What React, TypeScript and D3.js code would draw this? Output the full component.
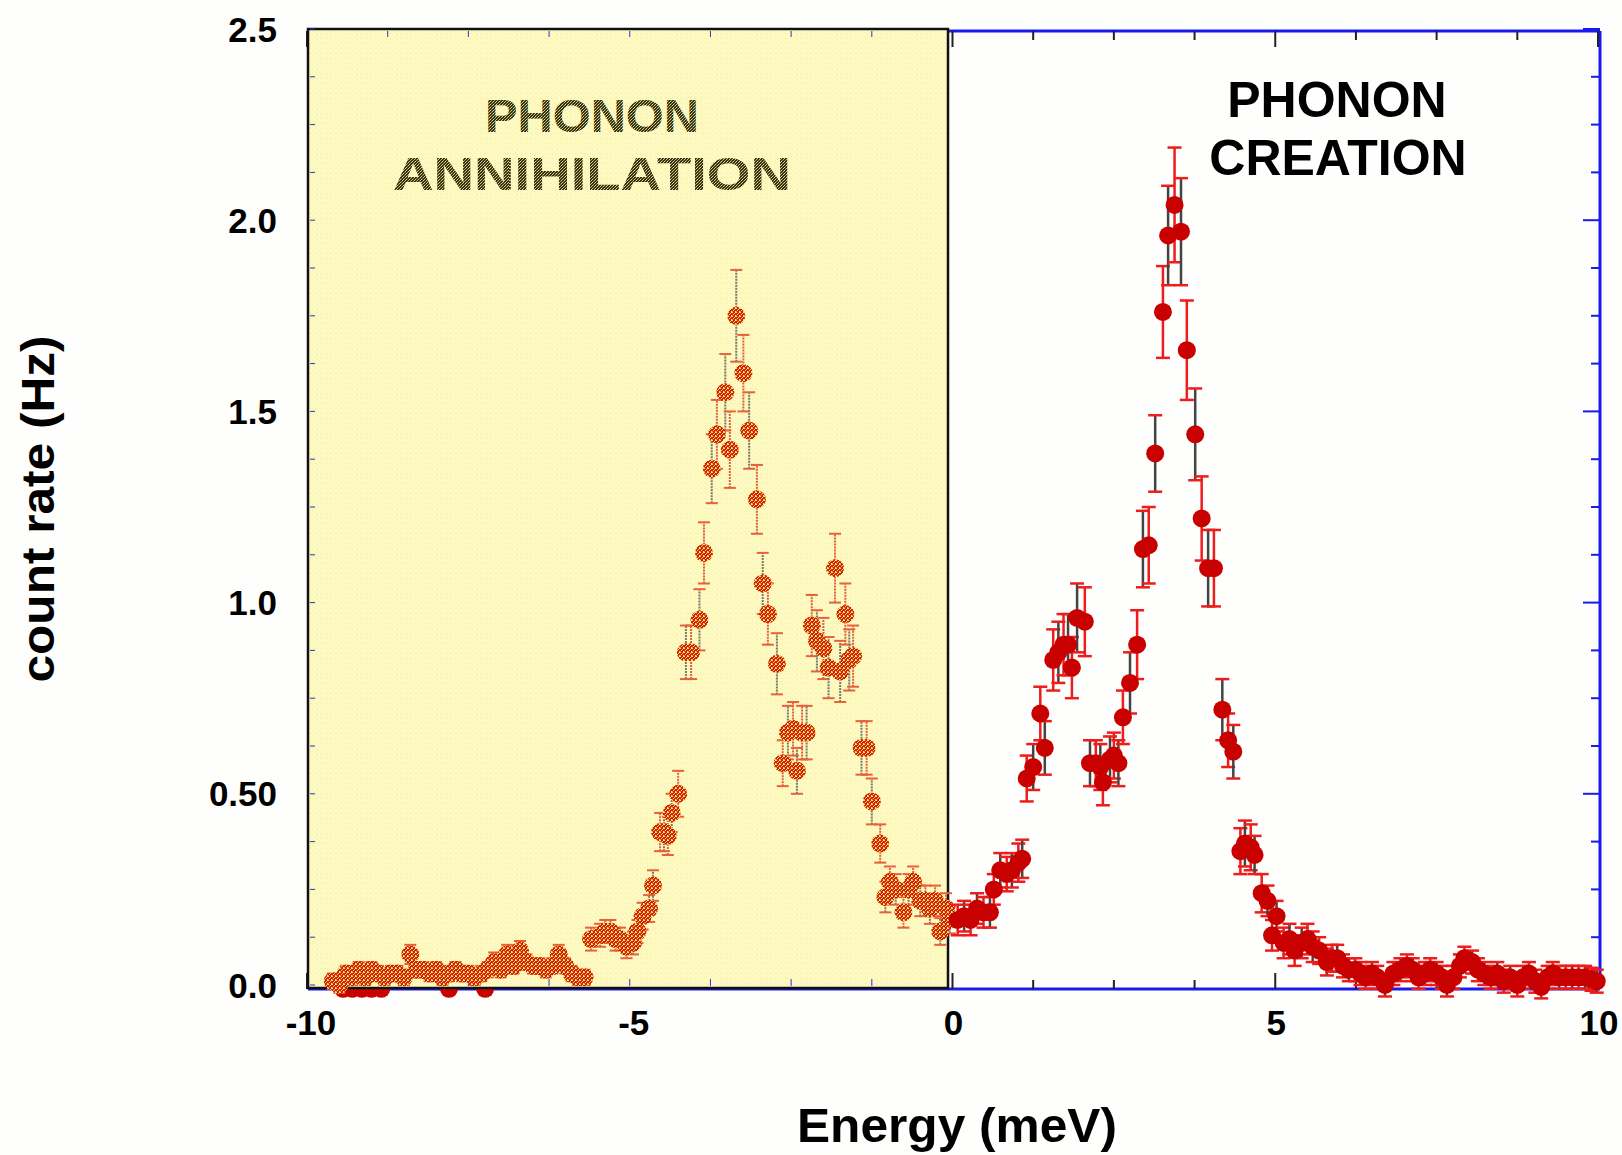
import React from "react";
import * as d3 from "d3";

// ---------- data ----------
const xTickLabels = ["-10", "-5", "0", "5", "10"];
const xTickValues = [-10, -5, 0, 5, 10];
const yTickLabels = ["0.0", "0.50", "1.0", "1.5", "2.0", "2.5"];
const yTickValues = [0, 0.5, 1.0, 1.5, 2.0, 2.5];

// phonon creation (E > 0)
const creationE = [0.08, 0.18, 0.28, 0.38, 0.48, 0.58, 0.64, 0.74, 0.84, 0.92, 1.02, 1.08, 1.15, 1.25, 1.36, 1.43, 1.56, 1.64, 1.72, 1.79, 1.85, 1.93, 2.05, 2.13, 2.22, 2.29, 2.33, 2.44, 2.5, 2.57, 2.64, 2.75, 2.86, 2.95, 3.04, 3.14, 3.26, 3.34, 3.44, 3.54, 3.63, 3.76, 3.86, 3.96, 4.05, 4.18, 4.27, 4.35, 4.46, 4.53, 4.62, 4.68, 4.79, 4.88, 4.95, 5.02, 5.13, 5.22, 5.3, 5.41, 5.5, 5.58, 5.68, 5.8, 5.88, 5.96, 6.05, 6.14, 6.24, 6.32, 6.4, 6.5, 6.58, 6.7, 6.83, 6.94, 7.04, 7.13, 7.22, 7.32, 7.4, 7.5, 7.58, 7.66, 7.76, 7.86, 7.93, 8.05, 8.14, 8.24, 8.34, 8.44, 8.54, 8.64, 8.75, 8.84, 8.93, 9.03, 9.12, 9.22, 9.3, 9.4, 9.5, 9.6, 9.7, 9.8, 9.9, 9.98];
const creationRate = [0.17, 0.18, 0.17, 0.2, 0.19, 0.19, 0.25, 0.3, 0.29, 0.3, 0.32, 0.33, 0.54, 0.57, 0.71, 0.62, 0.85, 0.87, 0.89, 0.89, 0.83, 0.96, 0.95, 0.58, 0.58, 0.57, 0.53, 0.59, 0.6, 0.58, 0.7, 0.79, 0.89, 1.14, 1.15, 1.39, 1.76, 1.96, 2.04, 1.97, 1.66, 1.44, 1.22, 1.09, 1.09, 0.72, 0.64, 0.61, 0.35, 0.37, 0.36, 0.34, 0.24, 0.22, 0.13, 0.18, 0.11, 0.12, 0.09, 0.11, 0.12, 0.1, 0.09, 0.06, 0.07, 0.07, 0.05, 0.04, 0.04, 0.03, 0.02, 0.03, 0.02, 0.0, 0.03, 0.04, 0.05, 0.04, 0.02, 0.03, 0.04, 0.03, 0.02, 0.0, 0.02, 0.05, 0.07, 0.06, 0.04, 0.03, 0.02, 0.03, 0.01, 0.02, 0.0, 0.02, 0.03, 0.01, -0.005, 0.02, 0.03, 0.02, 0.02, 0.02, 0.02, 0.02, 0.015, 0.01];
const creationErr = [0.04, 0.04, 0.04, 0.04, 0.04, 0.04, 0.04, 0.045, 0.045, 0.045, 0.05, 0.05, 0.06, 0.06, 0.07, 0.07, 0.08, 0.08, 0.08, 0.08, 0.08, 0.09, 0.09, 0.06, 0.06, 0.06, 0.06, 0.06, 0.06, 0.06, 0.07, 0.08, 0.09, 0.1, 0.1, 0.1, 0.12, 0.13, 0.15, 0.14, 0.13, 0.12, 0.11, 0.1, 0.1, 0.08, 0.07, 0.07, 0.06, 0.06, 0.06, 0.05, 0.05, 0.04, 0.04, 0.04, 0.04, 0.04, 0.04, 0.04, 0.04, 0.04, 0.035, 0.035, 0.035, 0.035, 0.03, 0.03, 0.03, 0.03, 0.03, 0.03, 0.03, 0.03, 0.03, 0.03, 0.03, 0.03, 0.03, 0.03, 0.03, 0.03, 0.03, 0.03, 0.03, 0.03, 0.03, 0.03, 0.03, 0.03, 0.03, 0.03, 0.03, 0.03, 0.03, 0.03, 0.03, 0.03, 0.03, 0.03, 0.03, 0.03, 0.03, 0.03, 0.03, 0.03, 0.03, 0.03];

// phonon annihilation (E < 0), pasted inset
const annihilationE = [-9.6, -9.5, -9.4, -9.3, -9.2, -9.1, -9.0, -8.9, -8.8, -8.7, -8.6, -8.5, -8.4, -8.3, -8.2, -8.1, -8.0, -7.9, -7.8, -7.7, -7.6, -7.5, -7.4, -7.3, -7.2, -7.1, -7.0, -6.9, -6.8, -6.7, -6.6, -6.5, -6.4, -6.3, -6.2, -6.1, -6.0, -5.9, -5.8, -5.7, -5.6, -5.46, -5.38, -5.3, -5.22, -5.15, -5.05, -4.95, -4.88, -4.8, -4.7, -4.64, -4.53, -4.47, -4.41, -4.35, -4.25, -4.13, -4.05, -3.92, -3.85, -3.73, -3.65, -3.52, -3.45, -3.35, -3.24, -3.15, -3.03, -2.94, -2.86, -2.72, -2.63, -2.55, -2.47, -2.41, -2.33, -2.26, -2.18, -2.1, -2.0, -1.92, -1.82, -1.74, -1.66, -1.6, -1.54, -1.41, -1.33, -1.25, -1.12, -1.04, -0.97, -0.88, -0.76, -0.68, -0.61, -0.5, -0.42, -0.35, -0.27, -0.19, -0.1, -0.04];
const annihilationRate = [0.01, 0.0, 0.03, 0.02, 0.04, 0.02, 0.04, 0.03, 0.02, 0.03, 0.03, 0.02, 0.08, 0.04, 0.04, 0.03, 0.04, 0.02, 0.03, 0.04, 0.03, 0.03, 0.02, 0.03, 0.04, 0.06, 0.04, 0.08, 0.05, 0.09, 0.06, 0.05, 0.05, 0.04, 0.05, 0.08, 0.05, 0.03, 0.02, 0.02, 0.12, 0.13, 0.14, 0.14, 0.12, 0.12, 0.1, 0.11, 0.14, 0.18, 0.2, 0.26, 0.4, 0.4, 0.39, 0.45, 0.5, 0.87, 0.87, 0.955, 1.13, 1.35, 1.44, 1.55, 1.4, 1.75, 1.6, 1.45, 1.27, 1.05, 0.97, 0.84, 0.58, 0.66, 0.67, 0.56, 0.66, 0.66, 0.94, 0.9, 0.88, 0.83, 1.09, 0.82, 0.97, 0.85, 0.86, 0.62, 0.62, 0.48, 0.37, 0.23, 0.27, 0.25, 0.19, 0.25, 0.27, 0.22, 0.22, 0.2, 0.22, 0.14, 0.2, 0.17];
const annihilationErr = [0.02, 0.02, 0.02, 0.02, 0.02, 0.02, 0.02, 0.02, 0.02, 0.02, 0.02, 0.02, 0.025, 0.02, 0.02, 0.02, 0.02, 0.02, 0.02, 0.02, 0.02, 0.02, 0.02, 0.02, 0.02, 0.025, 0.02, 0.025, 0.02, 0.025, 0.02, 0.02, 0.02, 0.02, 0.02, 0.025, 0.02, 0.02, 0.02, 0.02, 0.03, 0.03, 0.03, 0.03, 0.03, 0.03, 0.03, 0.03, 0.03, 0.035, 0.035, 0.04, 0.05, 0.05, 0.05, 0.05, 0.06, 0.07, 0.07, 0.08, 0.08, 0.09, 0.09, 0.1, 0.1, 0.12, 0.1, 0.1, 0.09, 0.08, 0.08, 0.08, 0.06, 0.07, 0.07, 0.06, 0.07, 0.07, 0.08, 0.08, 0.08, 0.08, 0.09, 0.08, 0.08, 0.08, 0.08, 0.07, 0.07, 0.06, 0.05, 0.04, 0.04, 0.04, 0.04, 0.04, 0.04, 0.04, 0.04, 0.04, 0.04, 0.035, 0.04, 0.035];

// main-plot points hidden under the inset (only their lower edge peeks out)
const hiddenE = [-9.44, -9.3, -9.15, -9.0, -8.85, -7.8, -7.24];
const hiddenRate = [-0.01, -0.01, -0.01, -0.01, -0.01, -0.01, -0.01];

// ---------- layout ----------
const W = 1622;
const H = 1155;
const x = d3.scaleLinear().domain([-10, 10]).range([307, 1598]);
const y = d3.scaleLinear().domain([0, 2.5]).range([985, 29]);
const frameTop = 31;
const frameRight = 1600;
const frameBottom = 989;
const insetLeft = 308;
const insetRight = 948;
const insetTop = 29;
const insetBottom = 988;

const SANS = "'Liberation Sans', Arial, Helvetica, sans-serif";

export default function App() {
  const minorX = d3.range(-10, 10.001, 1.25);
  const minorY = d3.range(0, 2.5001, 0.125);
  const isMajorX = (v: number) => Math.abs(v / 5 - Math.round(v / 5)) < 1e-6;
  const isMajorY = (v: number) => Math.abs(v / 0.5 - Math.round(v / 0.5)) < 1e-6;

  return (
    <svg
      width={W}
      height={H}
      style={{ position: "absolute", left: 0, top: 0, background: "#fefefc" }}
      xmlns="http://www.w3.org/2000/svg"
    >
      <defs>
        <pattern id="speckRed" width="4" height="4" patternUnits="userSpaceOnUse">
          <rect width="4" height="4" fill="#d41c0a" />
          <rect x="0" y="0" width="1" height="1" fill="#f8e65a" />
          <rect x="2" y="1" width="1" height="1" fill="#f8e65a" />
          <rect x="1" y="2" width="1" height="1" fill="#f5dc50" />
          <rect x="3" y="3" width="1" height="1" fill="#f8e65a" />
          <rect x="3" y="0" width="1" height="1" fill="#faee80" />
          <rect x="0" y="3" width="1" height="1" fill="#ea8428" />
        </pattern>
        <pattern id="speckYellow" width="5" height="5" patternUnits="userSpaceOnUse">
          <rect width="5" height="5" fill="#fdf9bc" />
          <rect x="1" y="0" width="1" height="1" fill="#fffeea" />
          <rect x="3" y="2" width="1" height="1" fill="#fffcd8" />
          <rect x="0" y="3" width="1" height="1" fill="#f8f0a0" />
          <rect x="4" y="4" width="1" height="1" fill="#fffeea" />
          <rect x="2" y="4" width="1" height="1" fill="#faf3aa" />
        </pattern>
        <pattern id="speckDark" width="3" height="3" patternUnits="userSpaceOnUse">
          <rect width="3" height="3" fill="#34321c" />
          <rect x="0" y="0" width="1" height="1" fill="#d8d070" />
          <rect x="2" y="1" width="1" height="1" fill="#a8a050" />
          <rect x="1" y="2" width="1" height="1" fill="#e0d880" />
        </pattern>
      </defs>

      {/* main frame (blue) */}
      <line x1={insetLeft} x2={frameRight} y1={frameTop} y2={frameTop} stroke="#1a1aee" strokeWidth={3} />
      <line x1={frameRight} x2={frameRight} y1={frameTop} y2={frameBottom} stroke="#1a1aee" strokeWidth={3} />
      <line x1={insetLeft} x2={frameRight} y1={frameBottom} y2={frameBottom} stroke="#1a1aee" strokeWidth={3} />

      {/* top / bottom ticks */}
      {minorX.map((v, i) => {
        const len = isMajorX(v) ? 16 : 9;
        return (
          <g key={"tx" + i}>
            <line x1={x(v)} x2={x(v)} y1={frameTop} y2={frameTop + len} stroke="#222" strokeWidth={2} />
            <line x1={x(v)} x2={x(v)} y1={frameBottom} y2={frameBottom - len} stroke="#222" strokeWidth={2} />
          </g>
        );
      })}
      {/* right ticks */}
      {minorY.map((v, i) => {
        const len = isMajorY(v) ? 17 : 9;
        return (
          <line key={"ty" + i} x1={frameRight} x2={frameRight - len} y1={y(v)} y2={y(v)} stroke="#1a1aee" strokeWidth={2} />
        );
      })}

      {/* hidden main-plot points under inset */}
      {hiddenE.map((e, i) => (
        <circle key={"h" + i} cx={x(e)} cy={y(hiddenRate[i])} r={9} fill="#c80000" />
      ))}

      {/* inset: phonon annihilation */}
      <rect
        x={insetLeft}
        y={insetTop}
        width={insetRight - insetLeft}
        height={insetBottom - insetTop}
        fill="url(#speckYellow)"
        stroke="#111"
        strokeWidth={2.5}
      />
      {minorY.map((v, i) => (
        <line key={"iy" + i} x1={insetLeft + 2} x2={insetLeft + 7} y1={y(v)} y2={y(v)} stroke="#3030d0" strokeWidth={1} />
      ))}
      {minorX.filter((v) => v > -10 && v < 0).map((v, i) => (
        <g key={"ix" + i}>
          <line x1={x(v)} x2={x(v)} y1={insetTop + 2} y2={insetTop + 8} stroke="#3030d0" strokeWidth={1} />
          <line x1={x(v)} x2={x(v)} y1={insetBottom - 2} y2={insetBottom - 9} stroke="#3030d0" strokeWidth={1} />
        </g>
      ))}
      <text x={592} y={132} textAnchor="middle" fontFamily={SANS} fontWeight="bold" fontSize={47} fill="url(#speckDark)" textLength={214} lengthAdjust="spacingAndGlyphs">
        PHONON
      </text>
      <text x={592} y={190} textAnchor="middle" fontFamily={SANS} fontWeight="bold" fontSize={47} fill="url(#speckDark)" textLength={398} lengthAdjust="spacingAndGlyphs">
        ANNIHILATION
      </text>
      <g>
        {annihilationE.map((e, i) => {
          const cx = x(e);
          const v = annihilationRate[i];
          const er = annihilationErr[i];
          const y1 = y(v - er);
          const y2 = y(v + er);
          const col = i % 2 === 0 ? "#e06040" : "#7a7868";
          return (
            <g key={"a" + i}>
              <line x1={cx} x2={cx} y1={y1} y2={y2} stroke={col} strokeWidth={2} strokeDasharray="2 1" />
              <line x1={cx - 6} x2={cx + 6} y1={y1} y2={y1} stroke="#e8603c" strokeWidth={2} />
              <line x1={cx - 6} x2={cx + 6} y1={y2} y2={y2} stroke="#e8603c" strokeWidth={2} />
            </g>
          );
        })}
        {annihilationE.map((e, i) => (
          <circle key={"ap" + i} cx={x(e)} cy={y(annihilationRate[i])} r={9} fill="url(#speckRed)" />
        ))}
      </g>

      {/* phonon creation data */}
      <g>
        {creationE.map((e, i) => {
          const cx = x(e);
          const v = creationRate[i];
          const er = creationErr[i];
          const y1 = y(v - er);
          const y2 = y(v + er);
          const col = i % 2 === 0 ? "#ee1c1c" : "#444444";
          return (
            <g key={"c" + i}>
              <line x1={cx} x2={cx} y1={y1} y2={y2} stroke={col} strokeWidth={2.5} />
              <line x1={cx - 7} x2={cx + 7} y1={y1} y2={y1} stroke="#ee1c1c" strokeWidth={2.5} />
              <line x1={cx - 7} x2={cx + 7} y1={y2} y2={y2} stroke="#ee1c1c" strokeWidth={2.5} />
            </g>
          );
        })}
        {creationE.map((e, i) => (
          <circle key={"cp" + i} cx={x(e)} cy={y(creationRate[i])} r={9} fill="#c80000" />
        ))}
      </g>

      <text x={1337} y={117} textAnchor="middle" fontFamily={SANS} fontWeight="bold" fontSize={50} fill="#000">
        PHONON
      </text>
      <text x={1338} y={175} textAnchor="middle" fontFamily={SANS} fontWeight="bold" fontSize={50} fill="#000">
        CREATION
      </text>

      {/* y tick labels */}
      {yTickValues.map((v, i) => (
        <text key={"yl" + i} x={277} y={y(v)} dy="0.36em" textAnchor="end" fontFamily={SANS} fontWeight="bold" fontSize={35} fill="#000">
          {yTickLabels[i]}
        </text>
      ))}
      {/* x tick labels */}
      {xTickValues.map((v, i) => (
        <text key={"xl" + i} x={x(v) + (v < 0 ? 4 : 1)} y={1035} textAnchor="middle" fontFamily={SANS} fontWeight="bold" fontSize={35} fill="#000">
          {xTickLabels[i]}
        </text>
      ))}

      {/* axis titles */}
      <text x={957} y={1142} textAnchor="middle" fontFamily={SANS} fontWeight="bold" fontSize={48} fill="#000" textLength={320} lengthAdjust="spacingAndGlyphs">
        Energy (meV)
      </text>
      <text
        transform="translate(54,509) rotate(-90)"
        textAnchor="middle"
        fontFamily={SANS}
        fontWeight="bold"
        fontSize={46}
        fill="#000"
        textLength={347}
        lengthAdjust="spacingAndGlyphs"
      >
        count rate (Hz)
      </text>
    </svg>
  );
}
